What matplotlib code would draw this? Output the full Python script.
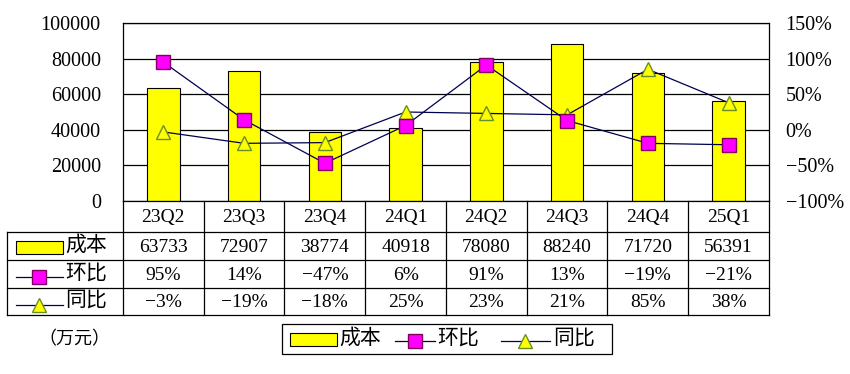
import matplotlib
matplotlib.use('Agg')
import matplotlib.pyplot as plt
import matplotlib.patches as patches
from matplotlib.ticker import FuncFormatter

plt.rcParams['font.family'] = ['Liberation Serif', 'Noto Sans CJK SC']

# data
categories = ['23Q2', '23Q3', '23Q4', '24Q1', '24Q2', '24Q3', '24Q4', '25Q1']
cost = [63733, 72907, 38774, 40918, 78080, 88240, 71720, 56391]
qoq = [95, 14, -47, 6, 91, 13, -19, -21]   # 环比 %
yoy = [-3, -19, -18, 25, 23, 21, 85, 38]   # 同比 %

series_names = ['成本', '环比', '同比']

bar_c = '#FFFF00'
sq_c = '#FF00FF'
line_c = '#000050'
tri_edge = '#6B8E23'

W, H = 850, 374
fig = plt.figure(figsize=(W / 100, H / 100), dpi=100)

# plot area in pixels
x0, x1 = 123, 769
ytop, ybot = 23, 201
ax = fig.add_axes([x0 / W, 1 - ybot / H, (x1 - x0) / W, (ybot - ytop) / H])
n = len(categories)
xs = list(range(n))

ax.bar(xs, cost, width=0.4, color=bar_c, edgecolor='black', linewidth=0.8, zorder=2)
ax.set_xlim(-0.5, n - 0.5)
ax.set_ylim(0, 100000)
ax.set_yticks(range(0, 100001, 20000))
ax.set_xticks([])
ax.set_axisbelow(True)
ax.yaxis.grid(True, color='black', linewidth=0.9)
ax.tick_params(axis='y', length=0, pad=16, labelsize=14.5)
for s in ax.spines.values():
    s.set_color('black')
    s.set_linewidth(0.9)

ax2 = ax.twinx()
ax2.set_ylim(-100, 150)
ax2.set_yticks(range(-100, 151, 50))
ax2.yaxis.set_major_formatter(FuncFormatter(lambda v, p: f'{int(v)}%'.replace('-', '\u2212')))
ax2.tick_params(axis='y', length=0, pad=12, labelsize=14.5)
ax2.plot(xs, qoq, color=line_c, lw=0.9, marker='s', ms=10, mfc=sq_c, mec='#800060', mew=1, zorder=4)
ax2.plot(xs, yoy, color=line_c, lw=0.9, marker='^', ms=10, mfc=bar_c, mec=tri_edge, mew=1, zorder=3)
for s in ax2.spines.values():
    s.set_visible(False)

# overlay for the data table and legend (pixel coordinates)
ov = fig.add_axes([0, 0, 1, 1])
ov.set_xlim(0, W)
ov.set_ylim(H, 0)
ov.axis('off')

cw = (x1 - x0) / n
tl = 7
rows = [201, 232, 260, 288, 315]
lk = dict(color='black', lw=0.9)

for r in rows[1:]:
    ov.plot([tl, x1], [r, r], **lk)
for i in range(n + 1):
    xb = x0 + i * cw
    ov.plot([xb, xb], [rows[0], rows[-1]], **lk)
ov.plot([tl, tl], [rows[1], rows[-1]], **lk)


def fmt_pct(v):
    return f'{v}%'.replace('-', '\u2212')


table_rows = [[str(v) for v in cost], [fmt_pct(v) for v in qoq], [fmt_pct(v) for v in yoy]]
for i, c in enumerate(categories):
    cx = x0 + (i + 0.5) * cw
    ov.text(cx, (rows[0] + rows[1]) / 2 + 1, c, ha='center', va='center', fontsize=14)
    for k, vals in enumerate(table_rows):
        ov.text(cx, (rows[k + 1] + rows[k + 2]) / 2 + 1, vals[i], ha='center', va='center', fontsize=14)


def legend_key(kind, xa, xb, y):
    if kind == 0:
        ov.add_patch(patches.Rectangle((xa, y - 6.5), xb - xa, 13, facecolor=bar_c,
                                       edgecolor='black', lw=0.8))
    else:
        ov.plot([xa, xb], [y, y], color=line_c, lw=0.9)
        if kind == 1:
            ov.plot([(xa + xb) / 2], [y], marker='s', ms=10, mfc=sq_c, mec='#800060', mew=1)
        else:
            ov.plot([(xa + xb) / 2], [y], marker='^', ms=10, mfc=bar_c, mec=tri_edge, mew=1)


for k, name in enumerate(series_names):
    yc = (rows[k + 1] + rows[k + 2]) / 2
    legend_key(k, 16, 63, yc + (3 if k else 1))
    ov.text(65, yc, name, ha='left', va='center', fontsize=15)

# bottom legend
ov.add_patch(patches.Rectangle((282, 324), 330, 30, facecolor='none', edgecolor='black', lw=0.9))
leg_keys = [(290, 337, 339), (395, 435, 437), (501, 550, 553)]
for k, (xa, xb, xt) in enumerate(leg_keys):
    legend_key(k, xa, xb, 339 + (2 if k else 0))
    ov.text(xt, 339, series_names[k], ha='left', va='center', fontsize=15)

ov.text(38, 340, '（万元）', ha='left', va='center', fontsize=13)

fig.savefig('out.png', dpi=100)
